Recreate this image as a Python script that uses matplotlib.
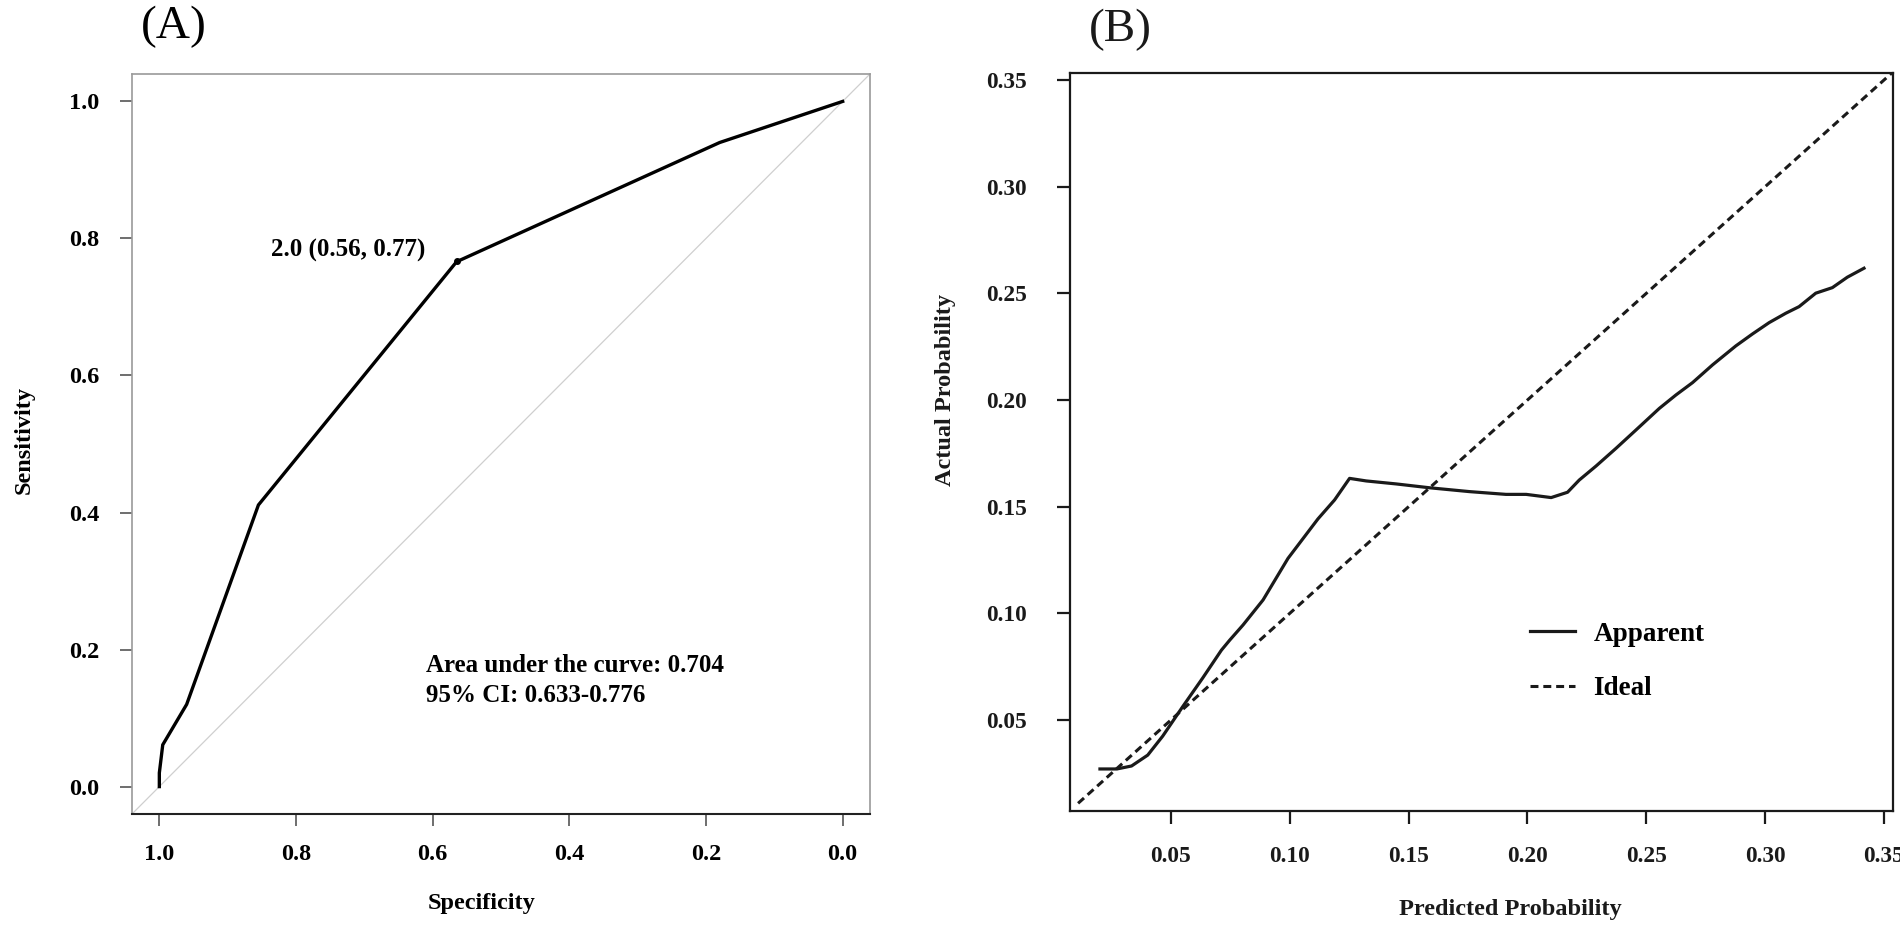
import matplotlib
matplotlib.use("Agg")
import matplotlib.pyplot as plt

plt.rcParams['font.family'] = ['Liberation Serif', 'DejaVu Serif']
plt.rcParams['font.weight'] = 'bold'

# ---------------- data ----------------
roc_specificity = [1.0, 1.0, 0.995, 0.96, 0.855, 0.565, 0.18, 0.0]
roc_sensitivity = [0.0, 0.02, 0.061, 0.12, 0.411, 0.766, 0.94, 1.0]
best_threshold = 2.0
best_spec = 0.56
best_sens = 0.77
auc_value = 0.704
ci_low, ci_high = 0.633, 0.776
roc_ticks = [1.0, 0.8, 0.6, 0.4, 0.2, 0.0]
roc_yticks = [0.0, 0.2, 0.4, 0.6, 0.8, 1.0]

apparent_pred = [0.0202, 0.0273, 0.0335, 0.0403, 0.0466, 0.055, 0.0634, 0.0713,
                 0.0748, 0.0804, 0.0888, 0.0993, 0.1119, 0.1189, 0.1252, 0.1322,
                 0.1448, 0.1588, 0.1756, 0.1910, 0.1995, 0.2100, 0.2169, 0.2218,
                 0.2289, 0.2373, 0.2457, 0.2555, 0.2625, 0.2695, 0.2779, 0.2877,
                 0.2947, 0.3017, 0.3087, 0.3143, 0.3213, 0.3283, 0.3346, 0.3416]
apparent_actual = [0.0271, 0.0271, 0.0285, 0.0336, 0.0425, 0.0563, 0.0697, 0.0828,
                   0.0875, 0.0946, 0.1063, 0.1258, 0.1443, 0.1532, 0.1633, 0.1621,
                   0.1607, 0.1589, 0.1571, 0.1558, 0.1558, 0.1543, 0.1568, 0.1625,
                   0.1691, 0.1774, 0.1860, 0.1961, 0.2024, 0.2082, 0.2165, 0.2254,
                   0.2310, 0.2363, 0.2407, 0.2438, 0.2501, 0.2527, 0.2576, 0.2618]
ideal_x = [0.011, 0.36]
ideal_y = [0.011, 0.36]
cal_ticks = [0.05, 0.10, 0.15, 0.20, 0.25, 0.30, 0.35]

# ---------------- figure ----------------
W, H = 1900, 933
fig = plt.figure(figsize=(W / 100, H / 100), dpi=100)
fig.patch.set_facecolor('white')

def frac_box(l, r, t, b):
    return [l / W, 1 - b / H, (r - l) / W, (b - t) / H]

FS = 17.5

# ---- Panel A: ROC ----
axA = fig.add_axes(frac_box(132, 870, 74, 814))
axA.plot([1.14, -0.14], [-0.14, 1.14], color='#cfcfcf', lw=0.9, zorder=1)
axA.plot(roc_specificity, roc_sensitivity, color='black', lw=2.4, zorder=3,
         solid_joinstyle='miter')
axA.plot([best_spec + 0.005], [best_sens - 0.003], 'o', color='black', ms=4, zorder=4)
axA.annotate(f"{best_threshold:.1f} ({best_spec:.2f}, {best_sens:.2f})",
             xy=(best_spec, best_sens), xytext=(-25, 6.5), textcoords='offset points',
             ha='right', va='center', fontsize=18, fontweight='bold')
axA.text(0.61, 0.176, f"Area under the curve: {auc_value:.3f}", ha='left', va='center',
         fontsize=18, fontweight='bold')
axA.text(0.61, 0.133, f"95% CI: {ci_low:.3f}-{ci_high:.3f}", ha='left', va='center',
         fontsize=18, fontweight='bold')
axA.set_xlim(1.04, -0.04)
axA.set_ylim(-0.04, 1.04)
axA.set_xticks(roc_ticks)
axA.set_xticklabels([f"{v:.1f}" for v in roc_ticks])
axA.set_yticks(roc_yticks)
axA.set_yticklabels([f"{v:.1f}" for v in roc_yticks])
for s in ['left', 'top', 'right']:
    axA.spines[s].set_color('#9a9a9a')
    axA.spines[s].set_linewidth(1.2)
axA.spines['bottom'].set_color('#222222')
axA.spines['bottom'].set_linewidth(1.5)
axA.tick_params(axis='both', direction='out', length=8.6, width=1.2, color='#555555',
                labelsize=FS)
axA.tick_params(axis='x', pad=13)
axA.tick_params(axis='y', pad=15)
for lab in axA.get_xticklabels() + axA.get_yticklabels():
    lab.set_fontweight('bold')

fig.text(482 / W, 1 - 904 / H, "Specificity", ha='center', va='center',
         fontsize=FS, fontweight='bold')
fig.text(24 / W, 1 - 440 / H, "Sensitivity", ha='center', va='center', rotation=90,
         fontsize=FS, fontweight='bold')
fig.text(174 / W, 1 - 27 / H, "(A)", ha='center', va='center', fontsize=34,
         fontweight='normal')

# ---- Panel B: calibration ----
axB = fig.add_axes(frac_box(1070, 1893, 73, 811))
axB.plot(apparent_pred, apparent_actual, color='#1a1a1a', lw=2.3, label='Apparent',
         zorder=3)
ideal_line, = axB.plot(ideal_x, ideal_y, color='#1a1a1a', lw=2.2, label='Ideal',
                       zorder=2)
ideal_line.set_dashes((2.6, 1.6))
axB.set_xlim(0.0076, 0.3538)
axB.set_ylim(0.0074, 0.3533)
axB.set_xticks(cal_ticks)
axB.set_xticklabels([f"{v:.2f}" for v in cal_ticks])
axB.set_yticks(cal_ticks)
axB.set_yticklabels([f"{v:.2f}" for v in cal_ticks])
for s in axB.spines.values():
    s.set_color('#1a1a1a')
    s.set_linewidth(1.6)
axB.tick_params(axis='both', direction='out', length=9.4, width=1.6, color='#1a1a1a',
                labelsize=16.8)
axB.tick_params(axis='x', pad=16)
axB.tick_params(axis='y', pad=21.6)
for lab in axB.get_xticklabels() + axB.get_yticklabels():
    lab.set_fontweight('bold')
    lab.set_color('#1a1a1a')

leg = axB.legend(loc='center left', bbox_to_anchor=(0.559, 0.2027), frameon=False,
                 prop={'family': ['Liberation Serif'], 'weight': 'bold', 'size': 19.5},
                 handlelength=1.67, handletextpad=0.67, labelspacing=1.1,
                 borderpad=0, borderaxespad=0)

fig.text(1510 / W, 1 - 910 / H, "Predicted Probability", ha='center', va='center',
         fontsize=FS, fontweight='bold', color='#1a1a1a')
fig.text(945 / W, 1 - 390 / H, "Actual Probability", ha='center', va='center',
         rotation=90, fontsize=FS, fontweight='bold', color='#1a1a1a')
fig.text(1120 / W, 1 - 30 / H, "(B)", ha='center', va='center', fontsize=34,
         fontweight='normal', color='#1a1a1a')

fig.savefig("out.png", dpi=100, facecolor='white')
